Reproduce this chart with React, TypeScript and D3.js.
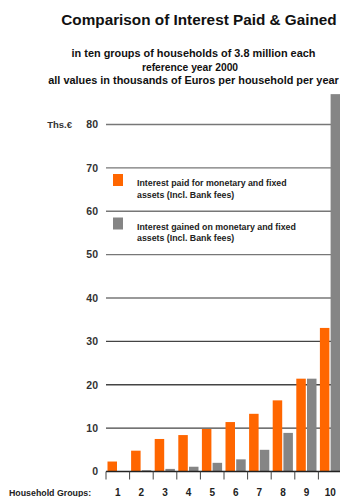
import React from "react";
import * as d3 from "d3";

const groups = [1, 2, 3, 4, 5, 6, 7, 8, 9, 10];
const interestPaid = [2.3, 4.8, 7.5, 8.4, 9.8, 11.4, 13.3, 16.4, 21.4, 33.1];
const interestGained = [0.05, 0.3, 0.6, 1.1, 2.0, 2.8, 5.0, 8.9, 21.4, 87];
const yTicks = [0, 10, 20, 30, 40, 50, 60, 70, 80];
const titleText = "Comparison of Interest Paid & Gained";
const subtitleLines = [
  "in ten groups of households of 3.8 million each",
  "reference year 2000",
  "all values in thousands of Euros per household per year",
];
const legendItems = [
  { label: ["Interest paid for monetary and fixed", "assets (Incl. Bank fees)"], color: "#ff6600" },
  { label: ["Interest gained on monetary and fixed", "assets (Incl. Bank fees)"], color: "#858585" },
];

const W = 340;
const H = 497;
const FONT = "'Liberation Sans', Arial, sans-serif";

export default function App() {
  const x = d3.scaleBand<number>().domain(groups).range([106, 342]).padding(0);
  const y = d3.scaleLinear().domain([0, 80]).range([471.5, 124.5]);
  const bw = 9.5;
  const off = 1.5;
  const gap = 1.2;
  const textColor = "#222";
  const subSizes = [10.9, 10.3, 10.9];

  return (
    <svg width={W} height={H} style={{ position: "absolute", left: 0, top: 0, background: "#fff" }} fontFamily={FONT}>
      <text x={199} y={25} textAnchor="middle" fontSize={15.3} fontWeight="bold" fill="#111">
        {titleText}
      </text>
      {subtitleLines.map((t, i) => (
        <text key={i} x={[193.5, 190, 193.5][i]} y={57 + i * 13.7} textAnchor="middle" fontSize={subSizes[i]} fontWeight="bold" fill="#111">
          {t}
        </text>
      ))}
      {/* gridlines */}
      {yTicks.filter((t) => t > 0).map((t) => (
        <line key={t} x1={106} x2={W} y1={y(t)} y2={y(t)} stroke={t <= 30 ? "#444" : "#777"} strokeWidth={1.3} />
      ))}
      {yTicks.map((t) => (
        <text key={t} x={98} y={y(t) + 3.8} textAnchor="end" fontSize={10.5} fontWeight="bold" fill="#333">
          {t}
        </text>
      ))}
      <text x={72} y={y(80) + 3.5} textAnchor="end" fontSize={9.5} fontWeight="bold" fill="#333">
        Ths.€
      </text>
      {/* legend */}
      {legendItems.map((it, i) => {
        const top = 174 + i * 43.5;
        return (
          <g key={i}>
            <rect x={113} y={top} width={10} height={12} fill={it.color} />
            {it.label.map((l, j) => (
              <text key={j} x={137} y={top + 12 + j * 11.5} fontSize={8.8} fontWeight="bold" fill={textColor}>
                {l}
              </text>
            ))}
          </g>
        );
      })}
      {/* bars */}
      {groups.map((g, i) => (
        <g key={g}>
          <rect x={(x(g) as number) + off} y={y(interestPaid[i])} width={bw} height={y(0) - y(interestPaid[i])} fill="#ff6600" />
          <rect
            x={(x(g) as number) + off + bw + gap}
            y={y(interestGained[i])}
            width={bw}
            height={y(0) - y(interestGained[i])}
            fill="#858585"
          />
        </g>
      ))}
      {/* x axis */}
      <line x1={106} x2={W} y1={y(0)} y2={y(0)} stroke="#222" strokeWidth={1.3} />
      {groups.map((g) => (
        <line key={g} x1={x(g) as number} x2={x(g) as number} y1={y(0)} y2={y(0) + 8} stroke="#444" strokeWidth={1} />
      ))}
      {groups.map((g) => (
        <text key={g} x={(x(g) as number) + x.bandwidth() / 2} y={496} textAnchor="middle" fontSize={10} fontWeight="bold" fill="#222">
          {g}
        </text>
      ))}
      <text x={9} y={496} fontSize={8.8} fontWeight="bold" fill="#222">
        Household Groups:
      </text>
    </svg>
  );
}
